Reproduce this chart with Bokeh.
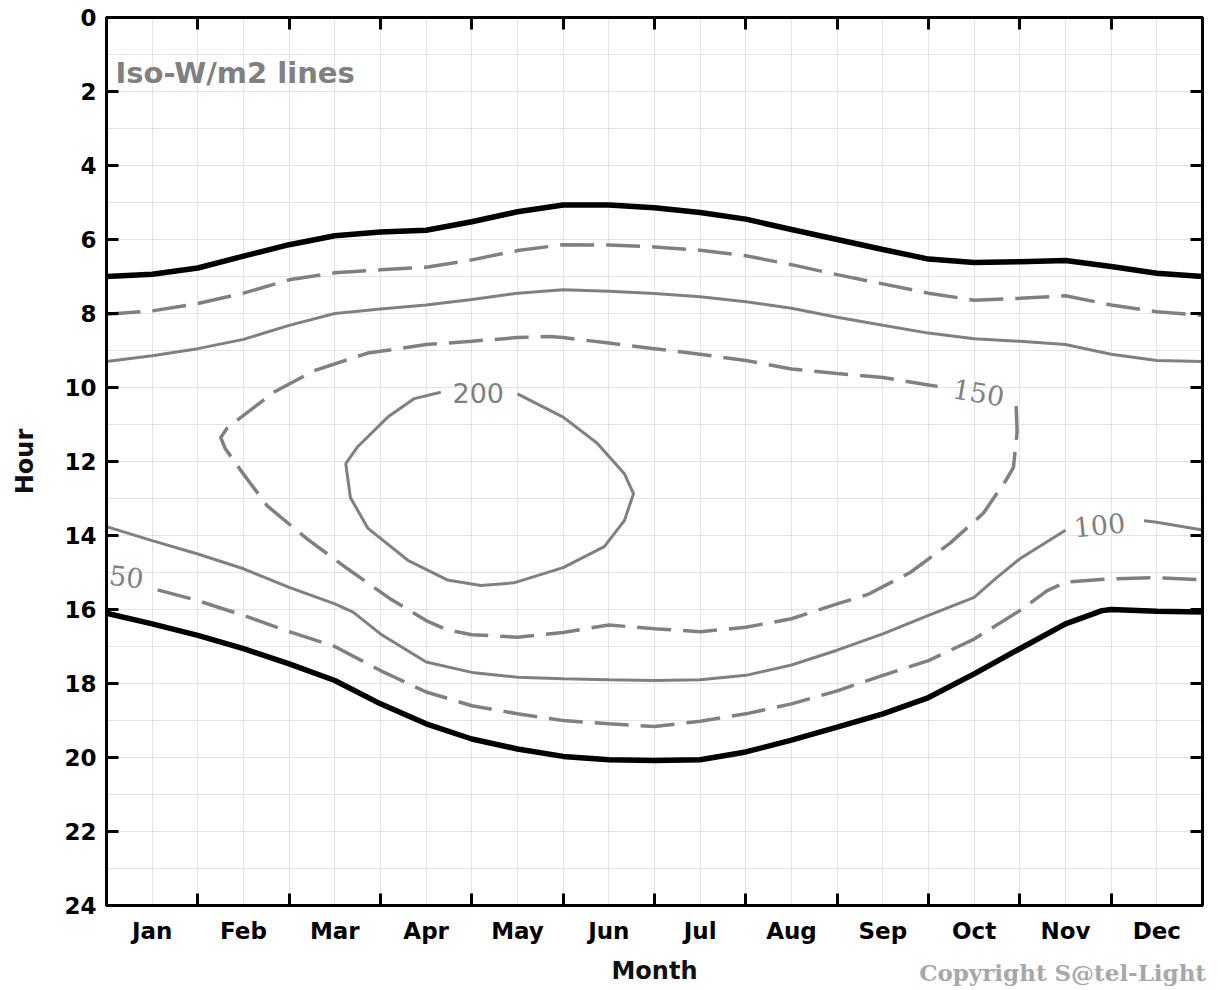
from bokeh.plotting import figure
from bokeh.models import Range1d, FixedTicker, LinearAxis, Label, Div
from bokeh.layouts import column
from bokeh.embed import file_html
from bokeh.resources import INLINE

nan = float("nan")

# ---- data (month position 0..12, hour of day) ----
month_names = ["Jan", "Feb", "Mar", "Apr", "May", "Jun",
               "Jul", "Aug", "Sep", "Oct", "Nov", "Dec"]
hour_ticks = [0, 2, 4, 6, 8, 10, 12, 14, 16, 18, 20, 22, 24]

half_months = [0, 0.5, 1, 1.5, 2, 2.5, 3, 3.5, 4, 4.5, 5, 5.5, 6,
               6.5, 7, 7.5, 8, 8.5, 9, 9.5, 10, 10.5, 11, 11.5, 12]

# 0 W/m2 (sunrise)
rise0_h = [7.0, 6.94, 6.77, 6.45, 6.14, 5.9, 5.8, 5.75, 5.52, 5.25, 5.07, 5.07, 5.14,
           5.27, 5.45, 5.73, 6.0, 6.27, 6.53, 6.62, 6.6, 6.57, 6.73, 6.91, 7.0]
# 50 W/m2 morning
rise50_h = [8.02, 7.93, 7.73, 7.45, 7.09, 6.9, 6.82, 6.75, 6.55, 6.3, 6.14, 6.15, 6.2,
            6.29, 6.44, 6.68, 6.95, 7.2, 7.45, 7.64, 7.59, 7.52, 7.77, 7.95, 8.05]
# 100 W/m2 morning
rise100_h = [9.3, 9.14, 8.95, 8.7, 8.32, 8.0, 7.88, 7.77, 7.62, 7.45, 7.36, 7.4, 7.46,
             7.55, 7.68, 7.86, 8.1, 8.32, 8.53, 8.68, 8.75, 8.84, 9.1, 9.27, 9.3]

# 100 W/m2 afternoon (gap for label)
set100_m = [0, 0.5, 1, 1.5, 2, 2.5, 2.7, 3, 3.5, 4, 4.5, 5, 5.5, 6, 6.5, 7, 7.5, 8,
            8.5, 9, 9.5, 9.75, 10, 10.5, nan, 11.36, 11.5, 12]
set100_h = [13.76, 14.14, 14.5, 14.9, 15.4, 15.85, 16.07, 16.66, 17.42, 17.7, 17.83,
            17.87, 17.9, 17.92, 17.9, 17.78, 17.5, 17.1, 16.66, 16.16, 15.67, 15.13,
            14.63, 13.86, nan, 13.6, 13.64, 13.85]

# 50 W/m2 afternoon
set50_m = [0.56, 1, 1.5, 2, 2.5, 3, 3.5, 4, 4.5, 5, 5.5, 6, 6.5, 7, 7.5, 8, 8.5, 9,
           9.5, 10, 10.3, 10.5, 11, 11.5, 12]
set50_h = [15.47, 15.76, 16.16, 16.6, 17.0, 17.65, 18.23, 18.6, 18.82, 19.0, 19.09,
           19.16, 19.02, 18.82, 18.55, 18.2, 17.78, 17.38, 16.8, 16.03, 15.49, 15.26,
           15.17, 15.14, 15.2]

# 0 W/m2 (sunset)
set0_m = [0, 0.5, 1, 1.5, 2, 2.5, 3, 3.5, 4, 4.5, 5, 5.5, 6, 6.5, 7, 7.5, 8, 8.5, 9,
          9.5, 10, 10.5, 10.9, 11, 11.5, 12]
set0_h = [16.1, 16.39, 16.7, 17.06, 17.47, 17.92, 18.55, 19.09, 19.5, 19.77, 19.97,
          20.06, 20.08, 20.06, 19.85, 19.53, 19.18, 18.82, 18.38, 17.74, 17.06, 16.39,
          16.03, 16.0, 16.05, 16.07]

# 150 W/m2 contour
iso150_m = [9.96, 9.97, 9.93, 9.85, 9.6, 9.24, 8.8, 8.33, 8.0, 7.5, 7.0, 6.5, 6.0,
            5.5, 5.0, 4.5, 4.0, 3.73, 3.5, 3.1, 2.64, 2.2, 1.76, 1.47, 1.3, 1.25,
            1.32, 1.45, 1.83, 2.27, 2.86, 3.5, 4.0, 4.5, 4.85, 5.0, 5.5, 6.0, 6.5,
            7.0, 7.5, 8.0, 8.5, 9.0, 9.1]
iso150_h = [10.5, 11.2, 12.16, 12.5, 13.4, 14.2, 15.0, 15.6, 15.85, 16.25, 16.48,
            16.6, 16.52, 16.42, 16.62, 16.75, 16.68, 16.55, 16.3, 15.7, 14.9, 14.1,
            13.2, 12.24, 11.65, 11.35, 11.1, 10.85, 10.13, 9.55, 9.07, 8.84, 8.75,
            8.65, 8.62, 8.65, 8.8, 8.95, 9.1, 9.27, 9.5, 9.62, 9.73, 9.93, 9.97]

# 200 W/m2 contour
iso200_m = [4.5, 5.0, 5.37, 5.67, 5.77, 5.67, 5.45, 5.0, 4.46, 4.1, 3.73, 3.3, 2.86,
            2.67, 2.62, 2.75, 3.08, 3.37, 3.66]
iso200_h = [10.17, 10.8, 11.5, 12.33, 12.87, 13.6, 14.3, 14.87, 15.28, 15.35, 15.2,
            14.67, 13.8, 12.97, 12.06, 11.6, 10.8, 10.3, 10.13]

# contour labels: text, month position, hour, angle (rad)
label_text = ["200", "150", "100", "50"]
label_m = [4.07, 9.55, 10.87, 0.22]
label_h = [10.14, 10.12, 13.7, 15.1]
label_angle = [0.0, -0.17, 0.1, -0.12]

GRAY = "#808080"

p = figure(width=1212, height=988, output_backend="svg", toolbar_location=None,
           x_range=Range1d(0, 12), y_range=Range1d(24, 0),
           min_border_left=106, min_border_right=10, min_border_top=17,
           min_border_bottom=83, x_axis_location=None, y_axis_location=None)
p.outline_line_color = "black"
p.outline_line_width = 3
p.background_fill_color = "white"

month_centers = [i + 0.5 for i in range(12)]
month_bounds = list(range(1, 12))

# bottom axis: labels at month centers, ticks at boundaries (as minor ticks)
xb = LinearAxis(ticker=FixedTicker(ticks=month_centers, minor_ticks=month_bounds))
xb.major_label_overrides = {c: n for c, n in zip(month_centers, month_names)}
xb.major_tick_in = 0
xb.major_tick_out = 0
xb.minor_tick_in = 12
xb.minor_tick_out = 0
xb.minor_tick_line_width = 3
xb.minor_tick_line_color = "black"
xb.axis_line_width = 3
xb.axis_line_color = "black"
xb.major_label_text_font = "DejaVu Sans"
xb.major_label_text_font_style = "bold"
xb.major_label_text_font_size = "23px"
xb.major_label_text_color = "black"
xb.major_label_standoff = 12
xb.axis_label = "Month"
xb.axis_label_text_font = "DejaVu Sans"
xb.axis_label_text_font_style = "bold"
xb.axis_label_text_font_size = "24px"
xb.axis_label_text_color = "#111111"
xb.axis_label_standoff = 10
p.add_layout(xb, "below")

xt = LinearAxis(ticker=FixedTicker(ticks=[], minor_ticks=month_bounds))
xt.major_tick_in = 0
xt.major_tick_out = 0
xt.minor_tick_in = 12
xt.minor_tick_out = 0
xt.minor_tick_line_width = 3
xt.axis_line_width = 3
p.add_layout(xt, "above")

yl = LinearAxis(ticker=FixedTicker(ticks=hour_ticks))
yl.major_tick_in = 12
yl.major_tick_out = 0
yl.major_tick_line_width = 3
yl.minor_tick_line_color = None
yl.axis_line_width = 3
yl.major_label_text_font = "DejaVu Sans"
yl.major_label_text_font_style = "bold"
yl.major_label_text_font_size = "23px"
yl.major_label_text_color = "black"
yl.major_label_standoff = 10
yl.axis_label = "Hour"
yl.axis_label_text_font = "DejaVu Sans"
yl.axis_label_text_font_style = "bold"
yl.axis_label_text_font_size = "24px"
yl.axis_label_text_color = "#111111"
yl.axis_label_standoff = 22
p.add_layout(yl, "left")

yr = LinearAxis(ticker=FixedTicker(ticks=[], minor_ticks=hour_ticks))
yr.major_tick_in = 0
yr.major_tick_out = 0
yr.minor_tick_in = 12
yr.minor_tick_out = 0
yr.minor_tick_line_width = 3
yr.axis_line_width = 3
p.add_layout(yr, "right")

p.xgrid.ticker = FixedTicker(ticks=[i * 0.5 for i in range(25)])
p.ygrid.ticker = FixedTicker(ticks=list(range(25)))
for g in (p.xgrid, p.ygrid):
    g.grid_line_color = "#e3e3e3"
    g.grid_line_width = 1

DASH = "34 12"
p.line(half_months, rise0_h, line_color="black", line_width=5.5)
p.line(set0_m, set0_h, line_color="black", line_width=5.5)
p.line(half_months, rise50_h, line_color=GRAY, line_width=3.5, line_dash=DASH)
p.line(set50_m, set50_h, line_color=GRAY, line_width=3.5, line_dash=DASH)
p.line(half_months, rise100_h, line_color=GRAY, line_width=3)
p.line(set100_m, set100_h, line_color=GRAY, line_width=3)
p.line(iso150_m, iso150_h, line_color=GRAY, line_width=3.5, line_dash=DASH)
p.line(iso200_m, iso200_h, line_color=GRAY, line_width=3)

for t, m, h, a in zip(label_text, label_m, label_h, label_angle):
    font = "DejaVu Sans" if t == "200" else "DejaVu Serif"
    p.add_layout(Label(x=m, y=h, text=t, angle=a, text_align="center",
                       text_baseline="middle", text_font=font,
                       text_font_size="27px", text_color=GRAY))

p.add_layout(Label(x=0, y=0, x_offset=9, y_offset=-55, text="Iso-W/m2 lines",
                   text_baseline="middle", text_font="DejaVu Sans",
                   text_font_style="bold", text_font_size="29px", text_color=GRAY))

copyright = Div(text="Copyright S@tel-Light", width=300, height=26,
                margin=(-28, 0, 0, 906),
                styles={"text-align": "right", "color": "#a8a8a8",
                        "font-family": "'DejaVu Serif', serif", "font-weight": "bold",
                        "font-size": "23px", "line-height": "26px",
                        "white-space": "nowrap"})

layout = column(p, copyright, spacing=0)

open("out.html", "w").write(file_html(layout, INLINE))
